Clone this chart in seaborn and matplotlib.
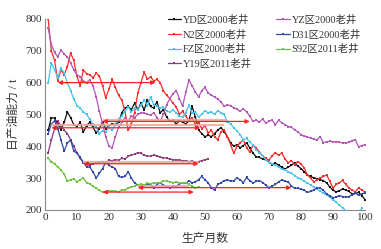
import matplotlib
matplotlib.use("Agg")
import matplotlib.pyplot as plt
import seaborn as sns
import numpy as np
import pandas as pd

sns.set_theme(style="white")
plt.rcParams['font.family'] = ['Liberation Serif', 'Noto Sans CJK SC']
plt.rcParams['axes.unicode_minus'] = False

# ---------------- data ----------------
yd = [450, 490, 488, 470, 452, 475, 508, 490, 468, 462,
      475, 445, 465, 475, 460, 442, 455, 477, 455, 465,
      470, 468, 475, 505, 520, 525, 515, 535, 515, 536,
      514, 546, 525, 520, 540, 505, 515, 492, 478, 482,
      470, 480, 476, 470, 480, 525, 492, 451, 440, 430,
      435, 430, 440, 451, 458, 446, 430, 410, 400, 405,
      395, 402, 411, 395, 378, 367, 365, 360, 357, 350,
      342, 348, 340, 335, 328, 335, 340, 348, 338, 330,
      320, 310, 305, 301, 298, 295, 292, 285, 272, 262,
      257, 260, 266, 262, 258, 250, 252, 255, 245, 232]

n2 = [800, 700, 670, 605, 640, 625, 650, 693, 670, 620,
      590, 640, 628, 625, 615, 630, 620, 590, 552, 580,
      610, 585, 560, 545, 510, 450, 470, 505, 567, 600,
      633, 610, 618, 605, 610, 600, 575, 560, 550, 535,
      524, 500, 510, 495, 480, 490, 470, 474, 455, 465,
      442, 450, 430, 420, 445, 451, 430, 405, 378, 400,
      411, 420, 395, 382, 404, 395, 382, 370, 362, 357,
      370, 380, 372, 379, 360, 348, 355, 342, 352, 345,
      332, 310, 300, 288, 295, 300, 305, 310, 290, 269,
      280, 285, 293, 280, 269, 262, 257, 269, 262, 257]

fz = [600, 662, 640, 615, 645, 630, 600, 575, 548, 528,
      520, 508, 500, 485, 470, 460, 440, 448, 445, 460,
      450, 470, 485, 495, 510, 524, 508, 520, 515, 530,
      546, 528, 555, 530, 525, 520, 522, 510, 508, 514,
      505, 495, 492, 505, 530, 505, 508, 492, 500, 512,
      505, 508, 500, 512, 505, 500, 477, 470, 458, 448,
      436, 420, 425, 412, 404, 389, 380, 370, 357, 350,
      345, 340, 335, 328, 326, 320, 315, 308, 301, 296,
      290, 285, 278, 272, 265, 260, 252, 247, 240, 232,
      225, 215, 207, 198, 188, 180, 178, 190, 205]

y19 = [380, 420, 455, 478, 465, 450, 440, 420, 400, 380,
       362, 348, 343, 340, 345, 348, 350, 352, 348, 356,
       355, 358, 356, 362, 360, 368, 372, 375, 380, 378,
       372, 370, 368, 372, 370, 366, 364, 362, 360, 358,
       356, 358, 354, 355, 352, 353, 350, 352, 355, 358,
       360]

yz = [772, 720, 695, 680, 703, 690, 680, 662, 640, 625,
      618, 605, 600, 608, 590, 555, 510, 470, 430, 400,
      395, 430, 460, 475, 490, 478, 495, 490, 500, 505,
      505, 500, 498, 505, 490, 478, 500, 530, 550, 565,
      575, 550, 525, 570, 608, 590, 570, 555, 575, 585,
      568, 560, 555, 548, 540, 525, 530, 528, 520, 516,
      510, 518, 508, 495, 478, 482, 476, 486, 473, 478,
      482, 468, 482, 474, 468, 462, 460, 452, 446, 436,
      432, 430, 426, 422, 420, 430, 411, 414, 416, 414,
      414, 412, 411, 410, 412, 418, 420, 398, 402, 405]

d31 = [440, 470, 480, 455, 420, 385, 410, 420, 385, 378,
       365, 350, 335, 334, 320, 300, 315, 330, 350, 340,
       335, 330, 305, 302, 305, 320, 300, 285, 278, 270,
       275, 282, 278, 270, 280, 285, 278, 272, 270, 275,
       272, 282, 285, 283, 292, 285, 288, 295, 305, 295,
       285, 270, 262, 280, 285, 292, 295, 290, 292, 300,
       295, 285, 302, 292, 285, 290, 292, 286, 278, 270,
       275, 280, 288, 294, 290, 288, 275, 268, 268, 265,
       262, 255, 258, 262, 270, 268, 262, 250, 245, 238,
       240, 245, 242, 240, 242, 248, 252, 246, 250, 254]

s92 = [362, 352, 345, 335, 325, 312, 290, 295, 298, 288,
       295, 300, 286, 282, 274, 268, 262, 255, 256, 258,
       260, 258, 257, 262, 264, 268, 272, 274, 278, 280,
       278, 284, 282, 285, 284, 286, 290, 292, 288, 286,
       288, 285, 283, 286, 280, 274, 270, 272]

series_names = ['YD区2000老井', 'N2区2000老井', 'FZ区2000老井', 'Y19区2011老井',
                'YZ区2000老井', 'D31区2000老井', 'S92区2011老井']
series_values = [yd, n2, fz, y19, yz, d31, s92]
series_colors = ['#111111', '#ff2a2a', '#45c3ee', '#8e3a7a',
                 '#b655b8', '#2f47a6', '#6cc23e']

# double-headed arrows: level, start month, end month, colour
arrow_level = [600, 458, 478, 345, 256, 270]
arrow_start = [4, 2, 18, 12, 18, 29]
arrow_end = [34.5, 48.5, 64, 48, 46.5, 77]
arrow_color = ['#ff2020', '#ff2020', '#ff2020', '#ff2020', '#ff2020', '#ff2020']

# pale companion lines
pale_level = [466, 484, 349, 276]
pale_start = [2, 18, 12, 29]
pale_end = [56, 57, 48, 45]

x_ticks = [0, 10, 20, 30, 40, 50, 60, 70, 80, 90, 100]
y_ticks = [200, 300, 400, 500, 600, 700, 800]

# ---------------- figure ----------------
fig = plt.figure(figsize=(3.81, 2.49), dpi=100)
ax = fig.add_axes([0.118, 0.157, 0.840, 0.767])

frames = []
for name, vals in zip(series_names, series_values):
    frames.append(pd.DataFrame({'month': np.arange(1, len(vals) + 1),
                                'value': vals, 'series': name}))
df = pd.concat(frames, ignore_index=True)

for name, col in zip(series_names, series_colors):
    sub = df[df['series'] == name]
    sns.lineplot(data=sub, x='month', y='value', ax=ax, color=col, lw=0.9,
                 marker='s', markersize=1.6, markeredgewidth=0,
                 label=name, zorder=3)

for lv, s, e in zip(pale_level, pale_start, pale_end):
    ax.plot([s, e], [lv, lv], color='#f4a3a3', lw=1.6, alpha=0.85, zorder=4,
            solid_capstyle='butt')

for lv, s, e, c in zip(arrow_level, arrow_start, arrow_end, arrow_color):
    ax.annotate('', xy=(e, lv), xytext=(s, lv),
                arrowprops=dict(arrowstyle='<|-|>', color=c, lw=0.9,
                                mutation_scale=6, shrinkA=0, shrinkB=0),
                zorder=5)

ax.set_xlim(0, 100)
ax.set_ylim(200, 800)
ax.set_xticks(x_ticks)
ax.set_yticks(y_ticks)
ax.tick_params(direction='in', length=3, width=0.6, colors='#777777',
               labelsize=8, labelcolor='#333333', pad=2)
for sp in ['top', 'right']:
    ax.spines[sp].set_visible(False)
for sp in ['left', 'bottom']:
    ax.spines[sp].set_color('#888888')
    ax.spines[sp].set_linewidth(0.8)

ax.set_xlabel('生产月数', fontsize=8.5, color='#333333', labelpad=8)
ax.set_ylabel('日产油能力 / t', fontsize=8.5, color='#333333', labelpad=4)

handles, labels = ax.get_legend_handles_labels()
leg = ax.legend(handles, labels, ncol=2, loc='upper left',
                bbox_to_anchor=(0.37, 1.045), frameon=False, fontsize=7.5,
                handlelength=1.3, handletextpad=0.2, columnspacing=2.3,
                labelspacing=0.45, borderaxespad=0)
for t in leg.get_texts():
    t.set_color('#333333')

fig.savefig('out.png', dpi=100)
